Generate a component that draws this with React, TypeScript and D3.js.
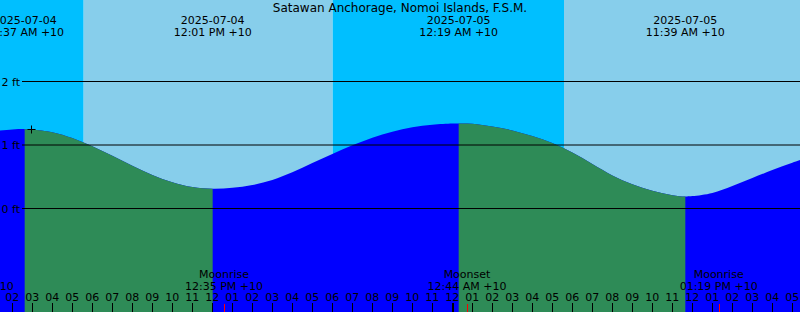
import React from "react";
import * as d3 from "d3";

const W = 800;
const H = 312;

const title = "Satawan Anchorage, Nomoi Islands, F.S.M.";
const tzLabel = "+10";

const domainStart = "2025-07-04T01:23";
const domainEnd = "2025-07-05T17:23";

// hourly water level (ft) starting at hourlyStart, one value per hour
const hourlyStart = "2025-07-04T01:00";
const hourlyHeights = [
  1.215, 1.245, 1.246, 1.201, 1.109, 0.98, 0.83, 0.674, 0.529, 0.413, 0.337, 0.31,
  0.325, 0.37, 0.45, 0.57, 0.715, 0.86, 0.995, 1.115, 1.21, 1.28, 1.32, 1.338,
  1.335, 1.29, 1.23, 1.14, 1.03, 0.88, 0.7, 0.52, 0.38, 0.28, 0.21, 0.195,
  0.245, 0.355, 0.48, 0.605, 0.72, 0.83,
];

const extremeTimes = ["2025-07-04T02:37", "2025-07-04T12:01", "2025-07-05T00:19", "2025-07-05T11:39"];
const extremeHeights = [1.25, 0.31, 1.34, 0.19];
const extremeKinds = ["high", "low", "high", "low"];

const sunTimes = ["2025-07-04T05:34", "2025-07-04T18:01", "2025-07-05T05:35"];
const sunKinds = ["rise", "set", "rise"];

const moonTimes = ["2025-07-04T00:06", "2025-07-04T12:35", "2025-07-05T00:44", "2025-07-05T13:19"];
const moonKinds = ["Moonset", "Moonrise", "Moonset", "Moonrise"];

const gridFeet = [0, 1, 2];

const markerTime = "2025-07-04T02:55";
const markerHeight = 1.255;

const NIGHT = "#00BFFF";
const DAY = "#87CEEB";
const RISING = "#0000FF";
const FALLING = "#2E8B57";
const FONT = "DejaVu Sans, sans-serif";

const parse = d3.utcParse("%Y-%m-%dT%H:%M") as (s: string) => Date;
const fmtDate = d3.utcFormat("%Y-%m-%d");
const fmtTime = d3.utcFormat("%I:%M %p");
const fmtHour = d3.utcFormat("%I");

export default function App() {
  const x = d3.scaleUtc().domain([parse(domainStart), parse(domainEnd)]).range([0, W]);
  const y = d3.scaleLinear().domain([0, 2]).range([208.5, 81.5]);

  // sky bands
  const bounds = [parse(domainStart), ...sunTimes.map(parse), parse(domainEnd)];
  let isDay = sunKinds[0] === "set";
  const bands: { x0: number; x1: number; c: string }[] = [];
  for (let i = 0; i < bounds.length - 1; i++) {
    bands.push({ x0: x(bounds[i]), x1: x(bounds[i + 1]), c: isDay ? DAY : NIGHT });
    isDay = !isDay;
  }

  // merged tide points
  const start = parse(hourlyStart);
  const ext = extremeTimes.map((t, i) => ({ t: parse(t), h: extremeHeights[i], k: extremeKinds[i] }));
  const pts: [Date, number][] = [];
  hourlyHeights.forEach((h, i) => {
    const t = d3.utcHour.offset(start, i);
    const near = ext.some((e) => Math.abs(+e.t - +t) < 0.25 * 3600 * 1000);
    if (!near) pts.push([t, h]);
  });
  ext.forEach((e) => pts.push([e.t, e.h]));
  pts.sort((a, b) => +a[0] - +b[0]);

  const area = d3
    .area<[Date, number]>()
    .x((d) => x(d[0]))
    .y0(H)
    .y1((d) => y(d[1]))
    .curve(d3.curveCatmullRom.alpha(0.5));
  const areaPath = area(pts) || "";

  const falling: { x0: number; x1: number }[] = [];
  for (let i = 0; i < ext.length - 1; i++) {
    if (ext[i].k === "high" && ext[i + 1].k === "low") falling.push({ x0: x(ext[i].t), x1: x(ext[i + 1].t) });
  }
  if (ext.length && ext[ext.length - 1].k === "high") falling.push({ x0: x(ext[ext.length - 1].t), x1: W });

  const hours = d3.utcHours(x.domain()[0], x.domain()[1]);

  const mx = Math.round(x(parse(markerTime))) + 0.5;
  const my = Math.round(y(markerHeight)) + 0.5;

  return (
    <svg
      width={W}
      height={H}
      style={{ position: "absolute", left: 0, top: 0, display: "block" }}
      fontFamily={FONT}
      fontSize={11}
    >
      <defs>
        <clipPath id="fallClip">
          {falling.map((f, i) => (
            <rect key={i} x={f.x0} y={0} width={f.x1 - f.x0} height={H} />
          ))}
        </clipPath>
      </defs>
      {bands.map((b, i) => (
        <rect key={i} x={b.x0} y={0} width={b.x1 - b.x0} height={H} fill={b.c} />
      ))}
      <path d={areaPath} fill={RISING} />
      <path d={areaPath} fill={FALLING} clipPath="url(#fallClip)" />

      {gridFeet.map((f) => (
        <g key={f}>
          <line x1={22} x2={W} y1={y(f)} y2={y(f)} stroke="#000" strokeWidth={1} />
          <text x={20} y={y(f) + 4} textAnchor="end" fill="#000">
            {f} ft
          </text>
        </g>
      ))}

      {ext.map((e, i) => (
        <g key={i}>
          <text x={x(e.t)} y={24} textAnchor="middle" fill="#000">
            {fmtDate(e.t)}
          </text>
          <text x={x(e.t)} y={36} textAnchor="middle" fill="#000">
            {fmtTime(e.t)} {tzLabel}
          </text>
        </g>
      ))}

      {moonTimes.map((m, i) => {
        const t = parse(m);
        const mxp = x(t);
        return (
          <g key={i}>
            <text x={mxp} y={278} textAnchor="middle" fill="#000">
              {moonKinds[i]}
            </text>
            <text x={mxp} y={290} textAnchor="middle" fill="#000">
              {fmtTime(t)} {tzLabel}
            </text>
            {mxp >= 0 && mxp <= W ? (
              <line x1={Math.round(mxp) + 0.5} x2={Math.round(mxp) + 0.5} y1={304} y2={H} stroke="#FF0000" strokeWidth={1} />
            ) : null}
          </g>
        );
      })}

      {hours.map((h, i) => {
        const hx = Math.floor(x(h)) + 0.5;
        const midnight = h.getUTCHours() === 0;
        return (
          <g key={i}>
            <text x={x(h)} y={301} textAnchor="middle" fill="#000">
              {fmtHour(h)}
            </text>
            <line
              x1={midnight ? hx + 0.5 : hx}
              x2={midnight ? hx + 0.5 : hx}
              y1={303}
              y2={H}
              stroke="#000"
              strokeWidth={midnight ? 2 : 1}
            />
          </g>
        );
      })}

      <path d={`M${mx - 4},${my}H${mx + 4}M${mx},${my - 4}V${my + 4}`} stroke="#000" strokeWidth={1} fill="none" />

      <text x={W / 2} y={12} textAnchor="middle" fill="#000" fontSize={12}>
        {title}
      </text>
    </svg>
  );
}
